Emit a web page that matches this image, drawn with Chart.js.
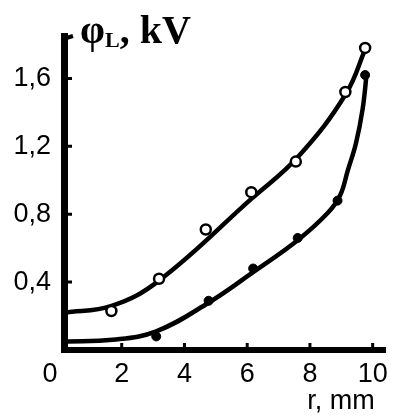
<!DOCTYPE html>
<html>
<head>
<meta charset="utf-8">
<script src="https://cdn.jsdelivr.net/npm/chart.js@4/dist/chart.umd.min.js"></script>
<style>
  body { margin: 0; background: #fff; }
</style>
</head>
<body>
<canvas id="plot" width="396" height="420"></canvas>
<script>
// measured points, open circles (upper) and filled dots (lower)
var openX = [1.67, 3.19, 4.68, 6.13, 7.55, 9.13, 9.76];
var openY = [0.23, 0.42, 0.71, 0.93, 1.11, 1.52, 1.78];
var fillX = [3.10, 4.77, 6.19, 7.61, 8.88, 9.76];
var fillY = [0.08, 0.29, 0.48, 0.66, 0.88, 1.62];

// the two smoothed curves
var upperX = [0.16, 1.68, 3.20, 6.13, 7.63, 9.15, 9.78];
var upperY = [0.22, 0.26, 0.41, 0.89, 1.14, 1.51, 1.78];
var lowerX = [0.16, 1.71, 3.10, 4.78, 6.20, 7.63, 8.58, 8.96, 9.21, 9.47, 9.68, 9.81];
var lowerY = [0.05, 0.06, 0.11, 0.28, 0.46, 0.65, 0.81, 0.91, 1.06, 1.22, 1.42, 1.63];

var xTicks = [2, 4, 6, 8, 10];
var yTicks = [0.4, 0.8, 1.2, 1.6];

function pts(xs, ys) {
  var out = [];
  for (let i = 0; i < xs.length; i++) out.push({x: xs[i], y: ys[i]});
  return out;
}

const tickFont = {family: 'Liberation Sans', size: 27};

// inward ticks, the small hook on the y axis, the "0" and the titles
const extras = {
  id: 'extras',
  afterDraw(chart) {
    const ctx = chart.ctx;
    const xs = chart.scales.x, ys = chart.scales.y;
    const a = chart.chartArea;
    ctx.save();
    ctx.strokeStyle = '#000';
    ctx.lineWidth = 3;
    ctx.beginPath();
    yTicks.forEach(v => {
      const p = ys.getPixelForValue(v);
      ctx.moveTo(a.left, p); ctx.lineTo(a.left + 8, p);
    });
    xTicks.forEach(v => {
      const p = xs.getPixelForValue(v);
      ctx.moveTo(p, a.bottom); ctx.lineTo(p, a.bottom - 7);
    });
    ctx.stroke();
    ctx.lineWidth = 4;
    ctx.beginPath();
    ctx.moveTo(a.left - 1, a.top + 3);
    ctx.lineTo(a.left + 9, a.top);
    ctx.stroke();

    ctx.fillStyle = '#000';
    ctx.font = '27px "Liberation Sans"';
    ctx.textBaseline = 'alphabetic';
    ctx.textAlign = 'center';
    ctx.fillText('0', 50, 382);
    ctx.textAlign = 'right';
    ctx.fillText('r, mm', xs.getPixelForValue(10) + 2, 409);

    // φL, kV
    ctx.textAlign = 'left';
    let x = 80;
    ctx.font = 'bold 40px "Liberation Serif"';
    ctx.fillText('φ', x, 43);
    x += ctx.measureText('φ').width;
    ctx.font = 'bold 22px "Liberation Serif"';
    ctx.fillText('L', x, 47);
    x += ctx.measureText('L').width;
    ctx.font = 'bold 40px "Liberation Serif"';
    ctx.fillText(', kV', x, 43);
    ctx.restore();
  }
};

new Chart(document.getElementById('plot'), {
  type: 'scatter',
  data: {
    datasets: [
      {
        data: pts(openX, openY), order: 0,
        pointRadius: 5, pointBorderWidth: 2.5,
        pointBackgroundColor: '#fff', pointBorderColor: '#000'
      },
      {
        data: pts(fillX, fillY), order: 0,
        pointRadius: 4.5, pointBorderWidth: 1,
        pointBackgroundColor: '#000', pointBorderColor: '#000'
      },
      {
        data: pts(upperX, upperY), order: 1, showLine: true,
        borderColor: '#000', borderWidth: 4.5, pointRadius: 0,
        tension: 0.4
      },
      {
        data: pts(lowerX, lowerY), order: 1, showLine: true,
        borderColor: '#000', borderWidth: 4.5, pointRadius: 0,
        tension: 0.4
      }
    ]
  },
  options: {
    responsive: false,
    animation: false,
    layout: {padding: {top: 36, right: 8, left: 0, bottom: 0}},
    plugins: {legend: {display: false}, tooltip: {enabled: false}},
    scales: {
      x: {
        min: 0.16, max: 10.41,
        afterBuildTicks: s => { s.ticks = xTicks.map(v => ({value: v})); },
        afterFit: s => { s.height = 70; },
        grid: {display: false, drawTicks: false},
        border: {display: true, color: '#000', width: 6},
        ticks: {font: tickFont, color: '#000', padding: 8, maxRotation: 0,
                callback: v => String(v)}
      },
      y: {
        min: 0, max: 1.85,
        afterBuildTicks: s => { s.ticks = yTicks.map(v => ({value: v})); },
        afterFit: s => { s.width = 64; },
        grid: {display: false, drawTicks: false},
        border: {display: true, color: '#000', width: 7},
        ticks: {font: tickFont, color: '#000', padding: 13,
                callback: v => v.toFixed(1).replace('.', ',')}
      }
    }
  },
  plugins: [extras]
});
</script>
</body>
</html>
